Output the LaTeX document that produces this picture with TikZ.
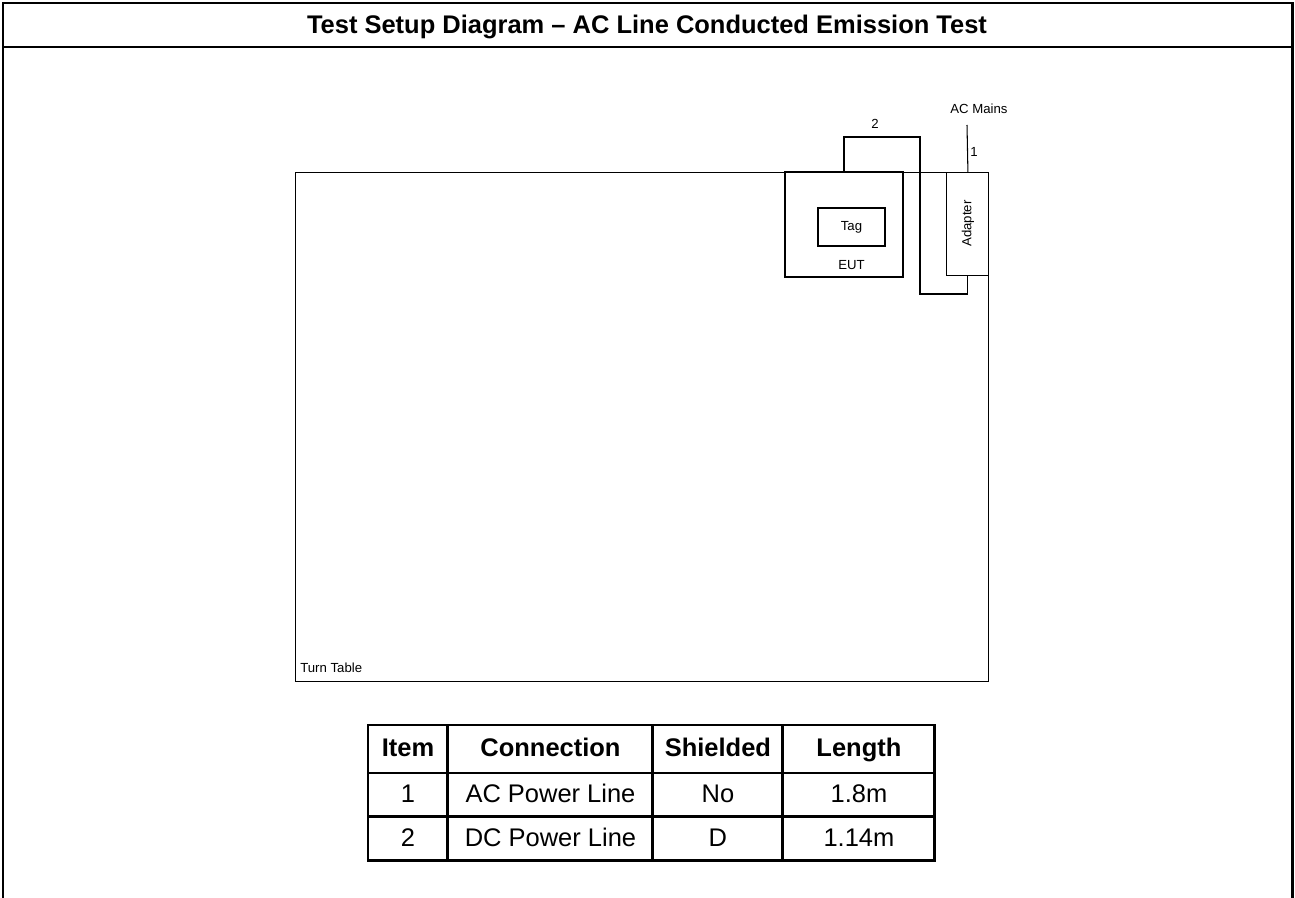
\documentclass[tikz,border=0pt]{standalone}
\usepackage{fontspec}
\setmainfont{Liberation Sans}
\usetikzlibrary{
  calc,
  positioning,
}
\tikzset{
  part/.style={draw, rectangle, line width=0.6pt, inner sep=0pt, outer sep=0pt},
  cable/.style={line width=0.6pt},
  small/.style={font=\fontsize{7.5}{9}\selectfont, inner sep=0pt},
  cell/.style={draw, rectangle, line width=1.7pt, inner sep=0pt, outer sep=0pt,
    minimum height=0.88cm, text height=2.1ex, text depth=0.45ex,
    font=\fontsize{14.5}{17}\selectfont},
  head/.style={cell, minimum height=0.96cm, font=\fontsize{14.5}{17}\selectfont\bfseries},
}

\begin{document}
\begin{tikzpicture}[x=0.02cm, y=-0.02cm, node distance=0mm and 0mm]
  \useasboundingbox (0,0) rectangle (1295,898);

  % frame and title
  \draw[line width=1.7pt] (3,898) -- (3,3) -- (1292,3) -- (1292,898);
  \draw[line width=1.7pt] (3,47) -- (1292,47);
  \node[font=\fontsize{14.5}{17}\selectfont\bfseries] (title) at (647,27)
    {Test Setup Diagram – AC Line Conducted Emission Test};

  % turn table
  \node[part, minimum width=13.88cm, minimum height=10.2cm] (turntable) at (642,427) {};
  \node[small, anchor=base west] (ttlabel) at (300,672) {Turn Table};

  % EUT with tag
  \node[part, anchor=north west, minimum width=2.36cm, minimum height=2.1cm] (eut) at (785,172) {};
  \node[part, small, minimum width=1.34cm, minimum height=0.76cm] (tag) at (851.5,227) {Tag};
  \node[small, below=8pt of tag] (eutlabel) {EUT};

  % adapter
  \node[part, anchor=north east, minimum width=0.84cm, minimum height=2.06cm]
    (adapter) at (turntable.north east) {};
  \node[small, rotate=90] (adlabel) at (adapter.center) {Adapter};

  % cable 2
  \coordinate (c2top) at (920,137);
  \coordinate (c2bot) at (920,294);
  \draw[cable] (eut.north) |- (c2top) -- (c2bot) -| (adapter.south);
  \node[small] (c2label) at (875,124) {2};

  % cable 1
  \coordinate (mains) at (967,125);
  \draw[cable] (adapter.north) -- (mains);
  \node[small, anchor=west] (c1label) at (970,152) {1};
  \node[small] (mainslabel) at (979,109) {AC Mains};

  % cable table
  \node[head, minimum width=1.6cm, anchor=north west] (h1) at (368,725) {Item};
  \node[head, minimum width=4.1cm]  (h2) [right=of h1] {Connection};
  \node[head, minimum width=2.6cm]  (h3) [right=of h2] {Shielded};
  \node[head, minimum width=3.04cm] (h4) [right=of h3] {Length};

  \node[cell, minimum width=1.6cm]  (a1) [below=of h1] {1};
  \node[cell, minimum width=4.1cm]  (a2) [right=of a1] {AC Power Line};
  \node[cell, minimum width=2.6cm]  (a3) [right=of a2] {No};
  \node[cell, minimum width=3.04cm] (a4) [right=of a3] {1.8m};

  \node[cell, minimum width=1.6cm]  (b1) [below=of a1] {2};
  \node[cell, minimum width=4.1cm]  (b2) [right=of b1] {DC Power Line};
  \node[cell, minimum width=2.6cm]  (b3) [right=of b2] {D};
  \node[cell, minimum width=3.04cm] (b4) [right=of b3] {1.14m};
\end{tikzpicture}
\end{document}
